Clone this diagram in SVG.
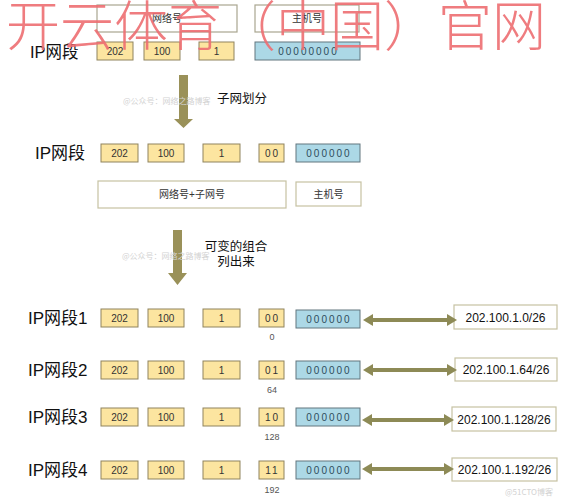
<svg xmlns="http://www.w3.org/2000/svg" width="567" height="500" viewBox="0 0 567 500">
<defs>
<style>
.t{font-family:"Liberation Sans","Noto Sans CJK SC",sans-serif;fill:#222}
.lbl{font-size:17px;fill:#111}
.num{font-size:10px;text-anchor:middle;fill:#333}
.bits{font-size:10px;text-anchor:middle;fill:#2e4d5c;letter-spacing:2px}
.sub{font-size:9px;text-anchor:middle;fill:#555}
.res{font-size:12px;text-anchor:middle;fill:#111}
.cap{font-size:12.5px;fill:#111}
.y{fill:#fce5a0;stroke:#8f835e;stroke-width:1}
.b{fill:#acd8e6;stroke:#62767f;stroke-width:1}
.w{fill:#fff;stroke:#c6c2a2;stroke-width:1.2}
.wm{font-family:"Noto Sans CJK SC",sans-serif;font-size:8px;fill:#d2d2d2}
.dn{fill:#9a9159}
.dbl{stroke:#8d8a56;stroke-width:4;fill:none}
</style>
<marker id="ah" viewBox="0 0 10 12" refX="2" refY="6" markerWidth="10" markerHeight="12" markerUnits="userSpaceOnUse" orient="auto-start-reverse">
<path d="M0,0 L10,6 L0,12 Z" fill="#8d8a56"/>
</marker>
</defs>
<rect width="567" height="500" fill="#fff"/>

<!-- top section -->
<g id="top-net">
<rect class="w" x="97" y="5" width="140" height="27" style="stroke:#a9a690"/>
<text class="t num" x="167" y="22">网络号</text>
</g>
<g id="top-host">
<rect class="w" x="255" y="5" width="104" height="27" style="stroke:#a9a690"/>
<text class="t num" x="307" y="22">主机号</text>
</g>
<g id="top-row">
<text class="t lbl" x="30" y="58" style="font-size:16.5px">IP网段</text>
<rect class="y" x="97" y="42" width="36" height="18"/><text class="t num" x="115" y="55">202</text>
<rect class="y" x="144" y="42" width="36" height="18"/><text class="t num" x="162" y="55">100</text>
<rect class="y" x="199" y="42" width="35" height="18"/><text class="t num" x="216.5" y="55">1</text>
<rect class="b" x="255" y="42" width="105" height="18"/><text class="t bits" x="308.5" y="55">00000000</text>
</g>

<!-- second section -->
<g id="row-split">
<text class="t lbl" x="35" y="159">IP网段</text>
<rect class="y" x="101" y="144" width="37" height="18"/><text class="t num" x="119.5" y="157">202</text>
<rect class="y" x="148" y="144" width="36" height="18"/><text class="t num" x="166" y="157">100</text>
<rect class="y" x="203" y="144" width="37" height="18"/><text class="t num" x="221.5" y="157">1</text>
<rect class="y" x="259" y="144" width="25" height="18"/><text class="t num" x="272.5" y="157" style="letter-spacing:2px">00</text>
<rect class="b" x="296" y="144" width="64" height="18"/><text class="t bits" x="329" y="157">000000</text>
</g>
<g id="net-subnet">
<rect class="w" x="98" y="181" width="188" height="27"/>
<text class="t num" x="192" y="198">网络号+子网号</text>
</g>
<g id="host">
<rect class="w" x="296" y="182" width="65" height="24"/>
<text class="t num" x="328.5" y="198">主机号</text>
</g>

<!-- rows -->
<g id="row1">
<text class="t lbl" x="28" y="324">IP网段1</text>
<rect class="y" x="101" y="309" width="37" height="18"/><text class="t num" x="119.5" y="322">202</text>
<rect class="y" x="148" y="309" width="36" height="18"/><text class="t num" x="166" y="322">100</text>
<rect class="y" x="203" y="309" width="37" height="18"/><text class="t num" x="221.5" y="322">1</text>
<rect class="y" x="259" y="309" width="25" height="18"/><text class="t num" x="272.5" y="322" style="letter-spacing:2px">00</text>
<rect class="b" x="296" y="310" width="64" height="18"/><text class="t bits" x="329" y="323">000000</text>
<text class="t sub" x="272" y="340">0</text>
</g>
<g id="row2">
<text class="t lbl" x="28" y="376">IP网段2</text>
<rect class="y" x="101" y="361" width="37" height="18"/><text class="t num" x="119.5" y="374">202</text>
<rect class="y" x="148" y="361" width="36" height="18"/><text class="t num" x="166" y="374">100</text>
<rect class="y" x="203" y="361" width="37" height="18"/><text class="t num" x="221.5" y="374">1</text>
<rect class="y" x="259" y="361" width="25" height="18"/><text class="t num" x="272.5" y="374" style="letter-spacing:2px">01</text>
<rect class="b" x="296" y="361" width="64" height="18"/><text class="t bits" x="329" y="374">000000</text>
<text class="t sub" x="272" y="393">64</text>
</g>
<g id="row3">
<text class="t lbl" x="28" y="423">IP网段3</text>
<rect class="y" x="101" y="408" width="37" height="18"/><text class="t num" x="119.5" y="421">202</text>
<rect class="y" x="148" y="408" width="36" height="18"/><text class="t num" x="166" y="421">100</text>
<rect class="y" x="203" y="408" width="37" height="18"/><text class="t num" x="221.5" y="421">1</text>
<rect class="y" x="259" y="408" width="25" height="18"/><text class="t num" x="272.5" y="421" style="letter-spacing:2px">10</text>
<rect class="b" x="296" y="408" width="64" height="18"/><text class="t bits" x="329" y="421">000000</text>
<text class="t sub" x="272" y="440">128</text>
</g>
<g id="row4">
<text class="t lbl" x="28" y="476">IP网段4</text>
<rect class="y" x="101" y="461" width="37" height="18"/><text class="t num" x="119.5" y="474">202</text>
<rect class="y" x="148" y="461" width="36" height="18"/><text class="t num" x="166" y="474">100</text>
<rect class="y" x="203" y="461" width="37" height="18"/><text class="t num" x="221.5" y="474">1</text>
<rect class="y" x="259" y="461" width="25" height="18"/><text class="t num" x="272.5" y="474" style="letter-spacing:2px">11</text>
<rect class="b" x="296" y="461" width="64" height="18"/><text class="t bits" x="329" y="474">000000</text>
<text class="t sub" x="272" y="493">192</text>
</g>

<!-- results -->
<g id="res1"><rect class="w" x="454" y="305" width="103" height="24"/><text class="t res" x="505.5" y="321.5">202.100.1.0/26</text></g>
<g id="res2"><rect class="w" x="455" y="358" width="102" height="23"/><text class="t res" x="506" y="374">202.100.1.64/26</text></g>
<g id="res3"><rect class="w" x="452" y="407" width="104" height="24"/><text class="t res" x="504" y="423.5">202.100.1.128/26</text></g>
<g id="res4"><rect class="w" x="452" y="458" width="105" height="23"/><text class="t res" x="504.5" y="474">202.100.1.192/26</text></g>

<!-- connectors -->
<g id="connectors">
<path class="dn" d="M179,75 H188 V119 H193 L183.5,128 L174,119 H179 Z"/>
<path class="dn" d="M173,230 H182 V273 H187 L177.5,285 L168,273 H173 Z"/>
<line class="dbl" x1="371" y1="320" x2="449" y2="320" marker-start="url(#ah)" marker-end="url(#ah)"/>
<line class="dbl" x1="371" y1="370" x2="449" y2="370" marker-start="url(#ah)" marker-end="url(#ah)"/>
<line class="dbl" x1="370" y1="420" x2="446" y2="420" marker-start="url(#ah)" marker-end="url(#ah)"/>
<line class="dbl" x1="370" y1="469" x2="446" y2="469" marker-start="url(#ah)" marker-end="url(#ah)"/>
</g>

<!-- captions -->
<text class="t cap" x="217" y="103">子网划分</text>
<text class="t cap" x="236" y="251" text-anchor="middle">可变的组合</text>
<text class="t cap" x="236" y="266" text-anchor="middle">列出来</text>

<!-- faint watermarks -->
<text class="wm" x="123" y="104">@公众号：网络之路博客</text>
<text class="wm" x="122" y="259">@公众号：网络之路博客</text>
<text class="wm" x="505" y="495">@51CTO博客</text>

<!-- red overlay text -->
<text x="6" y="46" style="font-family:'Noto Sans CJK SC',sans-serif;font-size:54px;font-weight:300;fill:#ee6e72;opacity:0.9">开云体育（中国）官网</text>
</svg>
